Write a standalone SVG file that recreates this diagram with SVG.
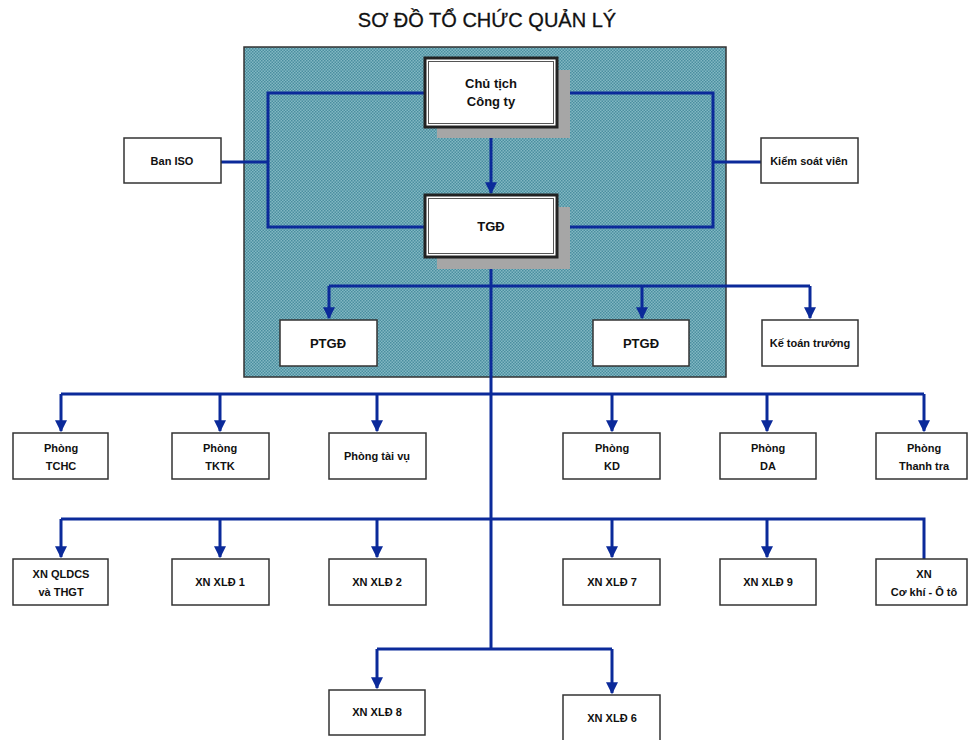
<svg xmlns="http://www.w3.org/2000/svg" width="968" height="740" viewBox="0 0 968 740">
  <style>
    .box { fill: #ffffff; stroke: #333333; stroke-width: 1.5; }
    .main { fill: #ffffff; stroke: #222222; stroke-width: 3; }
    .inner { fill: none; stroke: #555555; stroke-width: 1; }
    .shadow { fill: #a6a6a6; }
    .lbl { font-family: "Liberation Sans", Arial, sans-serif; font-weight: bold; font-size: 11px; fill: #111111; text-anchor: middle; }
    .big { font-size: 13px; }
    .title { font-family: "Liberation Sans", Arial, sans-serif; font-size: 20px; fill: #111111; stroke: #111111; stroke-width: 0.3; text-anchor: middle; }
    .wire { fill: none; stroke: #0b2a9a; stroke-width: 3; }
  </style>
  <defs>
    <pattern id="hatch" width="3" height="3" patternUnits="userSpaceOnUse">
      <rect width="3" height="3" fill="#82b8c3"/>
      <rect width="1.5" height="1.5" fill="#4a8e9f"/>
      <rect x="1.5" y="1.5" width="1.5" height="1.5" fill="#4a8e9f"/>
    </pattern>
    <marker id="arr" viewBox="0 0 10 10" refX="9" refY="5" markerWidth="4" markerHeight="4" orient="auto" markerUnits="strokeWidth">
      <path d="M0,0 L10,5 L0,10 z" fill="#0b2a9a"/>
    </marker>
  </defs>

  <rect width="968" height="740" fill="#ffffff"/>

  <text class="title" x="487" y="27">SƠ ĐỒ TỔ CHỨC QUẢN LÝ</text>

  <!-- management panel -->
  <rect x="244" y="47" width="482" height="330" fill="url(#hatch)" stroke="#333333" stroke-width="1.5"/>

  <g id="connectors">
    <!-- loops around chairman and general director -->
    <path class="wire" d="M425,93 H268 V227 H425"/>
    <path class="wire" d="M557,93 H713 V227 H557"/>
    <path class="wire" d="M221,162 H268"/>
    <path class="wire" d="M713,162 H761"/>
    <path class="wire" d="M491,127 V193" marker-end="url(#arr)"/>
    <!-- main trunk -->
    <path class="wire" d="M491,257 V649"/>
    <!-- deputies and chief accountant -->
    <path class="wire" d="M329,286 H810"/>
    <path class="wire" d="M329,286 V318" marker-end="url(#arr)"/>
    <path class="wire" d="M642,286 V318" marker-end="url(#arr)"/>
    <path class="wire" d="M810,286 V318" marker-end="url(#arr)"/>
    <!-- departments -->
    <path class="wire" d="M61,394 H924"/>
    <path class="wire" d="M61,394 V431" marker-end="url(#arr)"/>
    <path class="wire" d="M220,394 V431" marker-end="url(#arr)"/>
    <path class="wire" d="M377,394 V431" marker-end="url(#arr)"/>
    <path class="wire" d="M612,394 V431" marker-end="url(#arr)"/>
    <path class="wire" d="M767,394 V431" marker-end="url(#arr)"/>
    <path class="wire" d="M924,394 V431" marker-end="url(#arr)"/>
    <!-- enterprises -->
    <path class="wire" d="M61,519 H924 V559"/>
    <path class="wire" d="M61,519 V557" marker-end="url(#arr)"/>
    <path class="wire" d="M220,519 V557" marker-end="url(#arr)"/>
    <path class="wire" d="M377,519 V557" marker-end="url(#arr)"/>
    <path class="wire" d="M612,519 V557" marker-end="url(#arr)"/>
    <path class="wire" d="M767,519 V557" marker-end="url(#arr)"/>
    <!-- bottom enterprises -->
    <path class="wire" d="M377,649 H612"/>
    <path class="wire" d="M377,649 V688" marker-end="url(#arr)"/>
    <path class="wire" d="M612,649 V693" marker-end="url(#arr)"/>
  </g>

  <g id="chu-tich">
    <rect class="shadow" x="437" y="70" width="133" height="68"/>
    <rect class="main" x="425" y="58" width="132" height="69"/>
    <rect class="inner" x="428.5" y="61.5" width="125" height="62"/>
    <text class="lbl big" x="491" y="88">Chủ tịch</text>
    <text class="lbl big" x="491" y="106">Công ty</text>
  </g>

  <g id="tgd">
    <rect class="shadow" x="437" y="207" width="133" height="62"/>
    <rect class="main" x="425" y="195" width="132" height="62"/>
    <rect class="inner" x="428.5" y="198.5" width="125" height="55"/>
    <text class="lbl big" x="491" y="231">TGĐ</text>
  </g>

  <g id="ban-iso">
    <rect class="box" x="124" y="138" width="97" height="45"/>
    <text class="lbl" x="172" y="165">Ban ISO</text>
  </g>

  <g id="kiem-soat-vien">
    <rect class="box" x="761" y="138" width="97" height="45"/>
    <text class="lbl" x="809" y="165">Kiểm soát viên</text>
  </g>

  <g id="ptgd-1">
    <rect class="box" x="280" y="320" width="97" height="46"/>
    <text class="lbl big" x="328" y="348">PTGĐ</text>
  </g>

  <g id="ptgd-2">
    <rect class="box" x="593" y="320" width="96" height="46"/>
    <text class="lbl big" x="641" y="348">PTGĐ</text>
  </g>

  <g id="ke-toan-truong">
    <rect class="box" x="762" y="320" width="96" height="46"/>
    <text class="lbl" x="810" y="347">Kế toán trưởng</text>
  </g>

  <g id="phong-tchc">
    <rect class="box" x="13" y="433" width="95" height="46"/>
    <text class="lbl" x="61" y="452">Phòng</text>
    <text class="lbl" x="61" y="470">TCHC</text>
  </g>

  <g id="phong-tktk">
    <rect class="box" x="172" y="433" width="97" height="46"/>
    <text class="lbl" x="220" y="452">Phòng</text>
    <text class="lbl" x="220" y="470">TKTK</text>
  </g>

  <g id="phong-tai-vu">
    <rect class="box" x="329" y="433" width="97" height="46"/>
    <text class="lbl" x="377" y="460">Phòng tài vụ</text>
  </g>

  <g id="phong-kd">
    <rect class="box" x="563" y="433" width="97" height="46"/>
    <text class="lbl" x="612" y="452">Phòng</text>
    <text class="lbl" x="612" y="470">KD</text>
  </g>

  <g id="phong-da">
    <rect class="box" x="720" y="433" width="96" height="46"/>
    <text class="lbl" x="768" y="452">Phòng</text>
    <text class="lbl" x="768" y="470">DA</text>
  </g>

  <g id="phong-thanh-tra">
    <rect class="box" x="876" y="433" width="91" height="46"/>
    <text class="lbl" x="924" y="452">Phòng</text>
    <text class="lbl" x="924" y="470">Thanh tra</text>
  </g>

  <g id="xn-qldcs">
    <rect class="box" x="13" y="559" width="95" height="46"/>
    <text class="lbl" x="61" y="578">XN QLDCS</text>
    <text class="lbl" x="61" y="596">và THGT</text>
  </g>

  <g id="xn-xld-1">
    <rect class="box" x="172" y="559" width="97" height="46"/>
    <text class="lbl" x="220" y="586">XN XLĐ 1</text>
  </g>

  <g id="xn-xld-2">
    <rect class="box" x="329" y="559" width="97" height="46"/>
    <text class="lbl" x="377" y="586">XN XLĐ 2</text>
  </g>

  <g id="xn-xld-7">
    <rect class="box" x="563" y="559" width="97" height="46"/>
    <text class="lbl" x="612" y="586">XN XLĐ 7</text>
  </g>

  <g id="xn-xld-9">
    <rect class="box" x="720" y="559" width="96" height="46"/>
    <text class="lbl" x="768" y="586">XN XLĐ 9</text>
  </g>

  <g id="xn-co-khi">
    <rect class="box" x="876" y="559" width="91" height="46"/>
    <text class="lbl" x="924" y="578">XN</text>
    <text class="lbl" x="924" y="596">Cơ khí - Ô tô</text>
  </g>

  <g id="xn-xld-8">
    <rect class="box" x="329" y="690" width="96" height="45"/>
    <text class="lbl" x="377" y="716">XN XLĐ 8</text>
  </g>

  <g id="xn-xld-6">
    <rect class="box" x="563" y="695" width="97" height="46"/>
    <text class="lbl" x="612" y="722">XN XLĐ 6</text>
  </g>
</svg>
